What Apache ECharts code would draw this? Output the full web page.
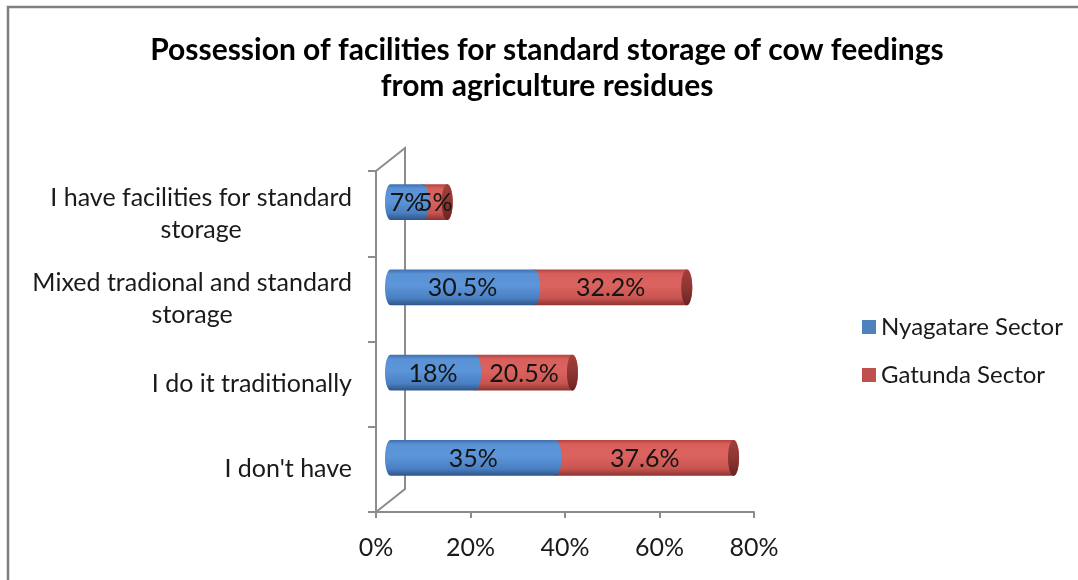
<!DOCTYPE html>
<html>
<head>
<meta charset="utf-8">
<script src="https://cdn.jsdelivr.net/npm/echarts@6/dist/echarts.min.js"></script>
<style>
  html, body { margin: 0; padding: 0; background: #ffffff; }
  #chart { width: 1078px; height: 580px; }
</style>
</head>
<body>
<div id="chart"></div>
<script>
// Categories, bottom to top along the category axis
const categories = [
  "I don't have",
  "I do it traditionally",
  "Mixed tradional and standard\nstorage",
  "I have facilities for standard\nstorage"
];
const seriesNames = ["Nyagatare Sector", "Gatunda Sector"];
const nyagatare = [35, 18, 30.5, 7];
const gatunda = [37.6, 20.5, 32.2, 5];
const axisMin = 0;
const axisMax = 80;
const axisInterval = 20;

const FONT = "Lato, 'Liberation Sans', sans-serif";
const LINE = "#8c8c8c";
const TEXT = "#1a1a1a";

// Front plane of the plot area and the depth of the 3-D side wall
const plot = { left: 376, top: 171, width: 378, height: 341 };
const depth = { dx: 29, dy: -23 };

// Stacked start/end values per category: [category, start, end, value]
const blueData = nyagatare.map((v, i) => [i, 0, v, v]);
const redData = gatunda.map((v, i) => [i, nyagatare[i], nyagatare[i] + v, v]);
const labelData = blueData.concat(redData);

function grad(stops) {
  return new echarts.graphic.LinearGradient(0, 0, 0, 1,
    stops.map(s => ({ offset: s[0], color: s[1] })));
}
const blueFill = () => grad([[0, "#3d6fae"], [0.12, "#5a92d5"], [0.45, "#5c95d9"], [0.8, "#4a80c3"], [1, "#2d5487"]]);
const redFill = () => grad([[0, "#b2443f"], [0.12, "#d95f5b"], [0.45, "#db635f"], [0.8, "#c85450"], [1, "#8c3330"]]);
const capFill = () => grad([[0, "#a2403c"], [0.5, "#8e3633"], [1, "#6a2422"]]);

function halfEllipse(cx, cy, rx, ry, from, n) {
  const pts = [];
  for (let k = 0; k <= n; k++) {
    const t = from + Math.PI * k / n;
    pts.push([cx + rx * Math.cos(t), cy + ry * Math.sin(t)]);
  }
  return pts;
}

function segment(api) {
  const cat = api.value(0);
  const a = api.coord([api.value(1), cat]);
  const b = api.coord([api.value(2), cat]);
  const band = api.size([0, 1])[1];
  return { a: a, b: b, cy: a[1], ry: band * 0.21, rx: 5.5 };
}

function makeCylinder(fill, withCap) {
  return function (params, api) {
    const s = segment(api);
    const pts = halfEllipse(s.b[0], s.cy, s.rx, s.ry, -Math.PI / 2, 20)
      .concat(halfEllipse(s.a[0], s.cy, s.rx, s.ry, Math.PI / 2, 20));
    const children = [{
      type: "polygon",
      shape: { points: pts },
      style: { fill: fill() }
    }];
    if (withCap) {
      children.push({
        type: "polygon",
        shape: { points: halfEllipse(s.b[0], s.cy, s.rx, s.ry, 0, 40).slice(0, 40)
          .concat(halfEllipse(s.b[0], s.cy, s.rx, s.ry, Math.PI, 40).slice(0, 40)) },
        style: { fill: capFill() }
      });
    }
    return { type: "group", children: children };
  };
}

function renderLabel(params, api) {
  const s = segment(api);
  return {
    type: "text",
    style: {
      text: api.value(3) + "%",
      x: (s.a[0] + s.b[0]) / 2,
      y: s.cy + 1,
      align: "center",
      verticalAlign: "middle",
      fontSize: 25,
      fontFamily: FONT,
      fill: "#141414"
    }
  };
}

const chart = echarts.init(document.getElementById("chart"), null, { renderer: "canvas" });

const X0 = plot.left, Y0 = plot.top, Y1 = plot.top + plot.height;

chart.setOption({
  backgroundColor: "#ffffff",
  animation: false,
  title: {
    text: "Possession of facilities for standard storage of cow feedings\nfrom agriculture residues",
    left: 542,
    top: 27,
    textAlign: "center",
    textStyle: {
      fontFamily: FONT,
      fontWeight: "bold",
      fontSize: 30,
      lineHeight: 36,
      color: "#000000"
    }
  },
  legend: {
    orient: "vertical",
    left: 857,
    top: 307,
    itemWidth: 14,
    itemHeight: 14,
    itemGap: 18,
    icon: "rect",
    data: seriesNames,
    textStyle: {
      fontFamily: FONT,
      fontSize: 24,
      lineHeight: 30,
      color: TEXT
    }
  },
  grid: [
    { left: plot.left, top: plot.top, width: plot.width, height: plot.height },
    { left: plot.left + depth.dx / 2, top: plot.top + depth.dy / 2, width: plot.width, height: plot.height }
  ],
  xAxis: [
    {
      gridIndex: 0,
      type: "value",
      min: axisMin,
      max: axisMax,
      interval: axisInterval,
      axisLine: { show: true, lineStyle: { color: LINE, width: 2 } },
      axisTick: { show: true, length: 6, lineStyle: { color: LINE, width: 2 } },
      splitLine: { show: false },
      axisLabel: {
        formatter: "{value}%",
        margin: 23,
        fontFamily: FONT,
        fontSize: 25,
        color: TEXT
      }
    },
    {
      gridIndex: 1,
      type: "value",
      min: axisMin,
      max: axisMax,
      show: false
    }
  ],
  yAxis: [
    {
      gridIndex: 0,
      type: "category",
      data: categories,
      axisLine: { show: true, lineStyle: { color: LINE, width: 2 } },
      axisTick: { show: true, length: 8, lineStyle: { color: LINE, width: 2 } },
      axisLabel: {
        margin: 24,
        align: "right",
        formatter: v => v.split("\n").map(s => "{c|" + s + "}").join("\n"),
        rich: {
          c: {
            align: "center",
            fontFamily: FONT,
            fontSize: 25,
            lineHeight: 32,
            color: TEXT
          }
        }
      }
    },
    {
      gridIndex: 1,
      type: "category",
      data: categories,
      show: false
    }
  ],
  graphic: [
    // outer frame
    {
      type: "rect",
      shape: { x: 8, y: 7, width: 1200, height: 700 },
      style: { fill: "none", stroke: "#808080", lineWidth: 2.5 },
      silent: true
    },
    // side wall of the 3-D plot area
    {
      type: "polyline",
      shape: { points: [[X0, Y0], [X0 + depth.dx, Y0 + depth.dy], [X0 + depth.dx, Y1 + depth.dy], [X0, Y1]] },
      style: { fill: "none", stroke: LINE, lineWidth: 2 },
      silent: true
    }
  ],
  series: [
    {
      name: seriesNames[0],
      type: "custom",
      xAxisIndex: 1,
      yAxisIndex: 1,
      z: 3,
      itemStyle: { color: "#4f81bd" },
      renderItem: makeCylinder(blueFill, false),
      encode: { x: [1, 2], y: 0 },
      data: blueData
    },
    {
      name: seriesNames[1],
      type: "custom",
      xAxisIndex: 1,
      yAxisIndex: 1,
      z: 2,
      itemStyle: { color: "#c0504d" },
      renderItem: makeCylinder(redFill, true),
      encode: { x: [1, 2], y: 0 },
      data: redData
    },
    {
      name: "value labels",
      type: "custom",
      xAxisIndex: 1,
      yAxisIndex: 1,
      z: 5,
      silent: true,
      renderItem: renderLabel,
      encode: { x: [1, 2], y: 0 },
      data: labelData
    }
  ]
});
</script>
</body>
</html>
